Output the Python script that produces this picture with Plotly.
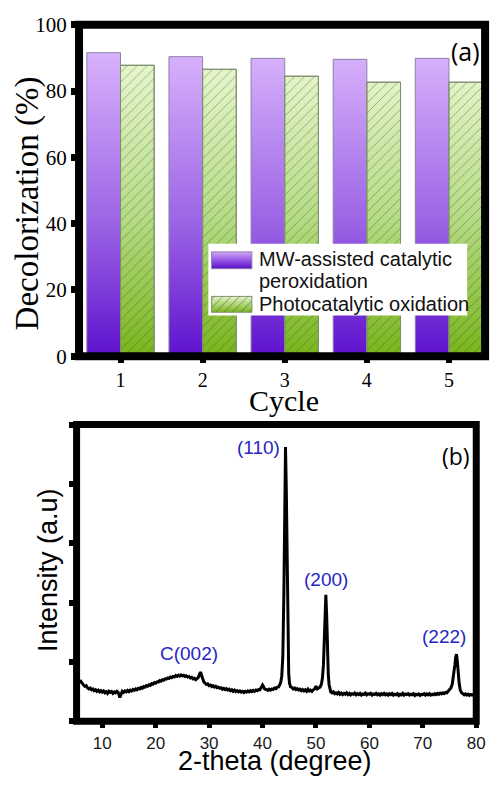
import base64
import plotly.graph_objects as go

W, H = 499, 785

# ---------------- Panel (a): decolorization over reuse cycles ----------------
cycles = [1, 2, 3, 4, 5]
mw_peroxidation = [91.6, 90.4, 89.9, 89.6, 89.9]
photocatalytic = [87.8, 86.6, 84.5, 82.7, 82.7]
series_names = ["MW-assisted catalytic", "peroxidation", "Photocatalytic oxidation"]
y_ticks_a = [0, 20, 40, 60, 80, 100]

# ---------------- Panel (b): XRD pattern ----------------
two_theta = [
    5.5, 5.75, 6.0, 6.25, 6.5, 6.75, 7.0, 7.25, 7.5, 7.75, 8.0, 8.25, 8.5, 8.75,
    9.0, 9.25, 9.5, 9.75, 10.0, 10.25, 10.5, 10.75, 11.0, 11.25, 11.5, 11.75,
    12.0, 12.25, 12.5, 12.75, 13.0, 13.3, 13.6, 13.75, 14.0, 14.25, 14.5, 14.75,
    15.0, 15.25, 15.5, 15.75, 16.0, 16.25, 16.5, 16.75, 17.0, 17.25, 17.5, 17.75,
    18.0, 18.25, 18.5, 18.75, 19.0, 19.25, 19.5, 19.75, 20.0, 20.25, 20.5, 20.75,
    21.0, 21.25, 21.5, 21.75, 22.0, 22.25, 22.5, 22.75, 23.0, 23.25, 23.5, 23.75,
    24.0, 24.25, 24.5, 24.75, 25.0, 25.25, 25.5, 25.75, 26.0, 26.25, 26.5, 26.75,
    27.0, 27.25, 27.5, 27.75, 28.0, 28.2, 28.4, 28.6, 28.8, 29.0, 29.25, 29.5,
    29.75, 30.0, 30.25, 30.5, 30.75, 31.0, 31.25, 31.5, 31.75, 32.0, 32.25, 32.5,
    32.75, 33.0, 33.25, 33.5, 33.75, 34.0, 34.25, 34.5, 34.75, 35.0, 35.25, 35.5,
    35.75, 36.0, 36.25, 36.5, 36.75, 37.0, 37.25, 37.5, 37.75, 38.0, 38.25, 38.5,
    38.75, 39.0, 39.25, 39.5, 39.75, 40.0, 40.2, 40.4, 40.75, 41.0, 41.25, 41.5,
    41.75, 42.0, 42.25, 42.5, 42.75, 43.0, 43.2, 43.4, 43.6, 43.8, 44.0, 44.15,
    44.3, 44.45, 44.6, 44.75, 44.9, 45.05, 45.25, 45.5, 45.75, 46.0, 46.25, 46.5,
    46.75, 47.0, 47.25, 47.5, 47.75, 48.0, 48.25, 48.5, 48.75, 49.0, 49.25, 49.5,
    49.75, 50.0, 50.25, 50.5, 50.75, 51.0, 51.2, 51.4, 51.6, 51.75, 51.85, 52.0,
    52.15, 52.3, 52.45, 52.6, 52.75, 53.0, 53.25, 53.5, 53.75, 54.0, 54.25, 54.5,
    54.75, 55.0, 55.25, 55.5, 55.75, 56.0, 56.25, 56.5, 56.75, 57.0, 57.25, 57.5,
    57.75, 58.0, 58.25, 58.5, 58.75, 59.0, 59.25, 59.5, 59.75, 60.0, 60.25, 60.5,
    60.75, 61.0, 61.25, 61.5, 61.75, 62.0, 62.25, 62.5, 62.75, 63.0, 63.25, 63.5,
    63.75, 64.0, 64.25, 64.5, 64.75, 65.0, 65.25, 65.5, 65.75, 66.0, 66.25, 66.5,
    66.75, 67.0, 67.25, 67.5, 67.75, 68.0, 68.25, 68.5, 68.75, 69.0, 69.25, 69.5,
    69.75, 70.0, 70.25, 70.5, 70.75, 71.0, 71.25, 71.5, 71.75, 72.0, 72.25, 72.5,
    72.75, 73.0, 73.25, 73.5, 73.75, 74.0, 74.25, 74.5, 74.75, 75.0, 75.25, 75.5,
    75.75, 76.0, 76.15, 76.3, 76.45, 76.6, 76.8, 77.0, 77.25, 77.5, 77.75, 78.0,
    78.25, 78.5, 78.75, 79.0, 79.25, 79.5, 79.75, 80.0,
]
intensity = [
    690, 660, 675, 630, 610, 590, 600, 560, 545, 560, 530, 545, 515, 530,
    505, 525, 495, 515, 490, 510, 480, 500, 470, 505, 485, 500,
    470, 495, 480, 505, 485, 400, 490, 505, 485, 510, 495, 520,
    500, 525, 510, 535, 520, 545, 530, 555, 545, 570, 555, 585,
    575, 600, 590, 615, 605, 635, 625, 650, 640, 665, 660, 685,
    675, 700, 690, 715, 710, 730, 720, 745, 735, 755, 745, 770,
    755, 775, 760, 780, 765, 775, 755, 765, 745, 755, 730, 740,
    715, 725, 700, 715, 740, 790, 830, 770, 700, 665, 640, 620,
    630, 600, 610, 585, 600, 575, 590, 565, 575, 555, 565, 540,
    555, 535, 550, 525, 540, 515, 530, 505, 525, 500, 515, 495,
    510, 490, 505, 485, 505, 490, 510, 495, 515, 500, 520, 505,
    525, 515, 535, 530, 570, 610, 580, 545, 535, 520, 540, 525,
    545, 535, 560, 550, 575, 580, 610, 650, 760, 1100, 2200, 3500,
    4620, 3900, 2400, 1300, 800, 640, 580, 570, 545, 560, 535, 550,
    525, 540, 515, 535, 510, 530, 505, 540, 510, 525, 505, 530,
    545, 590, 545, 560, 575, 620, 720, 950, 1500, 1950, 2130, 1800,
    1200, 800, 620, 540, 500, 480, 495, 465, 480, 460, 485, 455,
    475, 450, 470, 455, 480, 450, 470, 445, 465, 455, 475, 445,
    465, 450, 470, 440, 460, 450, 475, 445, 465, 455, 470, 440,
    460, 450, 470, 445, 460, 440, 465, 450, 470, 445, 460, 440,
    465, 450, 470, 440, 455, 445, 465, 435, 455, 445, 470, 440,
    460, 450, 465, 440, 455, 445, 465, 435, 455, 445, 460, 435,
    455, 450, 465, 440, 460, 445, 465, 440, 455, 445, 465, 450,
    470, 455, 475, 460, 480, 465, 485, 480, 505, 520, 560, 620,
    760, 950, 1080, 1130, 1020, 830, 640, 530, 480, 465, 445, 460,
    440, 455, 435, 450, 440, 455, 435, 450,
]
x_ticks_b = [10, 20, 30, 40, 50, 60, 70, 80]
y_ticks_b = [0, 1000, 2000, 3000, 4000, 5000]
peak_labels = ["C(002)", "(110)", "(200)", "(222)"]
peak_theta = [25.0, 44.3, 51.85, 76.3]
peak_intensity = [765, 4620, 2130, 1130]

BLUE = "#2626c4"
SERIF = "Liberation Serif, Times New Roman, serif"
SANS = "Liberation Sans, Arial, sans-serif"

fig = go.Figure()

# Bars are drawn as filled outlines so that each can carry a vertical gradient.
BAR_W = 0.41


def bar_paths(values, left, right):
    xs, ys = [], []
    for c, v in zip(cycles, values):
        xs += [c + left, c + left, c + right, c + right, c + left, None]
        ys += [0, v, v, 0, 0, None]
    return xs, ys


px, py = bar_paths(mw_peroxidation, -BAR_W, 0.0)
fig.add_trace(go.Scatter(
    x=px, y=py, mode="lines", fill="toself",
    line=dict(color="#8f7fa8", width=1),
    fillgradient=dict(type="vertical", start=0, stop=max(mw_peroxidation),
                      colorscale=[[0, "#5a0ccc"], [0.45, "#9a62e4"], [1, "#d8b2fc"]]),
    showlegend=False, hoverinfo="skip", xaxis="x", yaxis="y",
))

gx, gy = bar_paths(photocatalytic, 0.0, BAR_W)
fig.add_trace(go.Scatter(
    x=gx, y=gy, mode="lines", fill="toself",
    line=dict(color="#7f8f70", width=1),
    fillgradient=dict(type="vertical", start=0, stop=max(photocatalytic),
                      colorscale=[[0, "#74b212"], [0.5, "#b6dc86"], [1, "#e6f6cc"]]),
    showlegend=False, hoverinfo="skip", xaxis="x", yaxis="y",
))
# diagonal hatching on top of the green gradient
fig.add_trace(go.Scatter(
    x=gx, y=gy, mode="lines", fill="toself",
    line=dict(color="#7f8f70", width=1),
    fillcolor="rgba(0,0,0,0)",
    fillpattern=dict(shape="/", size=7, solidity=0.12, fillmode="overlay",
                     fgcolor="#3e4d33", bgcolor="rgba(0,0,0,0)"),
    showlegend=False, hoverinfo="skip", xaxis="x", yaxis="y",
))

# XRD trace
fig.add_trace(go.Scatter(
    x=two_theta, y=intensity, mode="lines",
    line=dict(color="black", width=3),
    showlegend=False, hoverinfo="skip", xaxis="x2", yaxis="y2",
))

# Layout positions below are given in page pixels (x from the left, y from the top).
# The page shows the figure with a small band above and below it, so vertical
# positions are mapped through that offset and scale.
PAGE_TOP, PAGE_SCALE = 8.0, 0.98


def pxx(p):
    return p / W


def pxy(p):
    return 1 - ((p - PAGE_TOP) / PAGE_SCALE) / H


# plot-area boxes (pixel edges of each panel)
A_L, A_R, A_T, A_B = 80.5, 494, 21, 356
B_L, B_R, B_T, B_B = 78, 485, 425, 725

# ---------------- Axes ----------------
fig.update_layout(
    width=W, height=H,
    margin=dict(l=0, r=0, t=0, b=0, pad=0),
    paper_bgcolor="white", plot_bgcolor="white",
    xaxis=dict(
        domain=[pxx(A_L), pxx(A_R)], range=[0.495, 5.44],
        tickvals=cycles, ticktext=[str(c) for c in cycles],
        ticks="outside", ticklen=6, tickwidth=6, tickcolor="black",
        showline=False, showgrid=False, zeroline=False,
        tickfont=dict(family=SERIF, size=20, color="black"),
        anchor="y",
    ),
    yaxis=dict(
        domain=[pxy(A_B), pxy(A_T)], range=[0, 100],
        tickvals=y_ticks_a,
        ticks="outside", ticklen=7, tickwidth=7, tickcolor="black",
        showline=False, showgrid=False, zeroline=False,
        tickfont=dict(family=SERIF, size=21, color="black"),
        anchor="x",
    ),
    xaxis2=dict(
        domain=[pxx(B_L), pxx(B_R)], range=[5.2, 80],
        tickvals=x_ticks_b,
        ticks="outside", ticklen=6, tickwidth=5, tickcolor="black",
        showline=False, showgrid=False, zeroline=False,
        tickfont=dict(family=SANS, size=17, color="#1a1a1a"),
        anchor="y2",
    ),
    yaxis2=dict(
        domain=[pxy(B_B), pxy(B_T)], range=[0, 5000],
        tickvals=y_ticks_b, showticklabels=False,
        ticks="outside", ticklen=7, tickwidth=6, tickcolor="black",
        showline=False, showgrid=False, zeroline=False,
        anchor="x2",
    ),
    shapes=[
        dict(type="rect", xref="paper", yref="paper",
             x0=pxx(A_L), x1=pxx(A_R), y0=pxy(A_B), y1=pxy(A_T),
             line=dict(color="black", width=8), layer="above"),
        dict(type="rect", xref="paper", yref="paper",
             x0=pxx(B_L), x1=pxx(B_R), y0=pxy(B_B), y1=pxy(B_T),
             line=dict(color="black", width=7), layer="above"),
    ],
)

annotations = [
    # axis titles
    dict(text="Decolorization (%)", x=pxx(28), y=pxy(201), textangle=-90,
         font=dict(family=SERIF, size=33, color="black")),
    dict(text="Cycle", x=pxx(289), y=pxy(401),
         font=dict(family=SERIF, size=30, color="black")),
    dict(text="Intensity (a.u)", x=pxx(49), y=pxy(572), textangle=-90,
         font=dict(family=SANS, size=27, color="black")),
    dict(text="2-theta (degree)", x=pxx(280), y=pxy(765),
         font=dict(family=SANS, size=27, color="black")),
    # panel letters
    dict(text="(a)", x=pxx(474), y=pxy(47),
         font=dict(family="Open Sans, sans-serif", size=25, color="black")),
    dict(text="(b)", x=pxx(464), y=pxy(457),
         font=dict(family="Open Sans, sans-serif", size=23, color="black")),
    # legend text
    dict(text=series_names[0], x=pxx(262), y=pxy(258), xanchor="left",
         font=dict(family=SANS, size=20, color="#111")),
    dict(text=series_names[1], x=pxx(262), y=pxy(280), xanchor="left",
         font=dict(family=SANS, size=20, color="#111")),
    dict(text=series_names[2], x=pxx(262), y=pxy(303), xanchor="left",
         font=dict(family=SANS, size=20, color="#111")),
]
for a in annotations:
    a.setdefault("xref", "paper")
    a.setdefault("yref", "paper")
    a.setdefault("showarrow", False)
    a.setdefault("xanchor", "center")
    a.setdefault("yanchor", "middle")

# peak labels on the XRD pattern
label_offsets = [(7, 10, "center", "bottom"), (-4, 0, "right", "middle"),
                 (0, 3, "center", "bottom"), (-12, 5, "center", "bottom")]
for lab, th, inten, (dx, dy, xa, ya) in zip(peak_labels, peak_theta, peak_intensity, label_offsets):
    annotations.append(dict(
        text=lab, x=th, y=inten, xref="x2", yref="y2", showarrow=False,
        xanchor=xa, yanchor=ya, xshift=dx, yshift=dy,
        font=dict(family=SANS, size=19, color=BLUE),
    ))
fig.update_layout(annotations=annotations)

# Legend box with gradient swatches (text is drawn as annotations above)
LX0, LY0, LX1, LY1 = 212, 242, 476, 315
lw, lh = LX1 - LX0, LY1 - LY0
legend_svg = f"""<svg xmlns='http://www.w3.org/2000/svg' width='{lw}' height='{lh}' viewBox='0 0 {lw} {lh}' preserveAspectRatio='none'>
<defs>
<linearGradient id='p' x1='0' y1='0' x2='0' y2='1'>
<stop offset='0' stop-color='#cfa4fa'/><stop offset='1' stop-color='#5a0ccc'/></linearGradient>
<linearGradient id='g' x1='0' y1='0' x2='0' y2='1'>
<stop offset='0' stop-color='#e6f6cc'/><stop offset='1' stop-color='#7ab61c'/></linearGradient>
<pattern id='h' width='6' height='6' patternUnits='userSpaceOnUse' patternTransform='rotate(45)'>
<line x1='0' y1='0' x2='0' y2='6' stroke='#3e4d33' stroke-width='0.8'/></pattern>
</defs>
<rect x='0' y='0' width='{lw}' height='{lh}' fill='white'/>
<rect x='3.5' y='8.5' width='41' height='17' fill='url(#p)' stroke='#8f7fa8' stroke-width='1'/>
<rect x='3.5' y='53.5' width='41' height='16' fill='url(#g)'/>
<rect x='3.5' y='53.5' width='41' height='16' fill='url(#h)' stroke='#7f8f70' stroke-width='1'/>
</svg>"""
src = "data:image/svg+xml;base64," + base64.b64encode(legend_svg.encode()).decode()
fig.add_layout_image(dict(
    source=src, xref="paper", yref="paper",
    x=pxx(LX0), y=pxy(LY0), sizex=lw / W, sizey=(pxy(LY0) - pxy(LY1)),
    xanchor="left", yanchor="top", sizing="stretch", layer="above",
))

fig.write_html("out.html")
